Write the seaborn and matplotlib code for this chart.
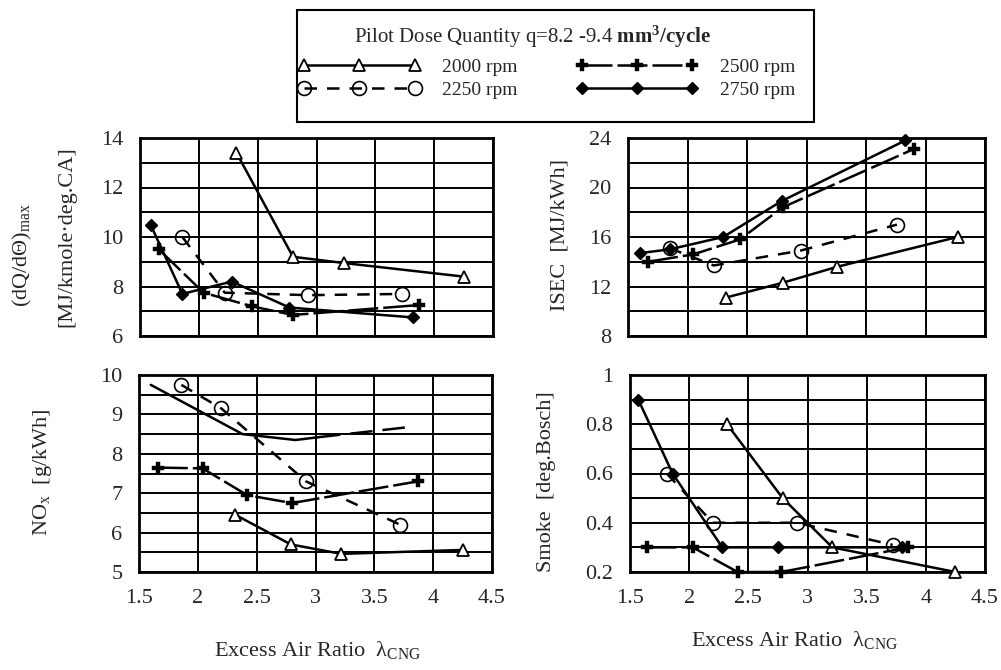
import matplotlib
matplotlib.use("Agg")
import matplotlib.pyplot as plt
import seaborn as sns
import pandas as pd
from matplotlib.lines import Line2D
from matplotlib.patches import Rectangle
from matplotlib.ticker import MultipleLocator, FuncFormatter

# ---------------- data ----------------
speeds = ["2000 rpm", "2250 rpm", "2500 rpm", "2750 rpm"]

# (dQ/dTheta)max  [MJ/kmole.deg.CA]
dq_2000_x = [2.32, 2.80, 3.23, 4.25]
dq_2000_y = [13.4, 9.2, 8.95, 8.4]
dq_2250_x = [1.86, 2.22, 2.93, 3.73]
dq_2250_y = [10.0, 7.75, 7.65, 7.7]
dq_2500_x = [1.66, 2.04, 2.45, 2.80, 3.87]
dq_2500_y = [9.5, 7.75, 7.2, 6.85, 7.25]
dq_2750_x = [1.59, 1.86, 2.28, 2.77, 3.82]
dq_2750_y = [10.5, 7.7, 8.2, 7.15, 6.75]

# ISEC [MJ/kWh]
isec_2000_x = [2.32, 2.80, 3.26, 4.27]
isec_2000_y = [11.1, 12.3, 13.6, 16.0]
isec_2250_x = [1.85, 2.22, 2.95, 3.76]
isec_2250_y = [15.1, 13.7, 14.9, 17.0]
isec_2500_x = [1.67, 2.05, 2.44, 2.80, 3.90]
isec_2500_y = [14.0, 14.6, 15.8, 18.4, 23.1]
isec_2750_x = [1.60, 1.85, 2.30, 2.79, 3.83]
isec_2750_y = [14.7, 15.0, 16.0, 18.9, 23.8]

# NOx [g/kWh]
nox_2000_x = [2.32, 2.79, 3.22, 4.25]
nox_2000_y = [6.45, 5.7, 5.46, 5.56]
nox_2250_x = [1.86, 2.20, 2.92, 3.72]
nox_2250_y = [9.75, 9.15, 7.3, 6.2]
nox_2500_x = [1.66, 2.04, 2.42, 2.80, 3.87]
nox_2500_y = [7.65, 7.63, 6.95, 6.75, 7.3]
nox_2750_x = [1.60, 2.38, 2.83, 3.02, 3.80]
nox_2750_y = [9.75, 8.5, 8.35, 8.42, 8.68]

# Smoke [deg.Bosch]
smk_2000_x = [2.32, 2.79, 3.21, 4.25]
smk_2000_y = [0.8, 0.5, 0.3, 0.2]
smk_2250_x = [1.81, 2.20, 2.91, 3.72]
smk_2250_y = [0.6, 0.4, 0.4, 0.31]
smk_2500_x = [1.64, 2.03, 2.41, 2.78, 3.85]
smk_2500_y = [0.3, 0.3, 0.2, 0.2, 0.3]
smk_2750_x = [1.57, 1.86, 2.28, 2.75, 3.80]
smk_2750_y = [0.9, 0.6, 0.3, 0.3, 0.3]

legend_title = r"Pilot Dose Quantity q=8.2 -9.4 $\mathbf{mm^{3}/cycle}$"
x_title = r"Excess Air Ratio  λ$_{\mathrm{CNG}}$"

# ---------------- style ----------------
sns.set_theme(style="white")
plt.rcParams["font.family"] = ["Liberation Serif", "DejaVu Serif"]
plt.rcParams["mathtext.fontset"] = "custom"
plt.rcParams["mathtext.rm"] = "Liberation Serif"
plt.rcParams["mathtext.it"] = "Liberation Serif:italic"
plt.rcParams["mathtext.bf"] = "Liberation Serif:bold"

STY = {
    "2000 rpm": dict(marker="^", markerfacecolor="white", markeredgecolor="black",
                     markersize=9, markeredgewidth=1.3, linestyle="-"),
    "2250 rpm": dict(marker="o", markerfacecolor="none", markeredgecolor="black",
                     markersize=10, markeredgewidth=1.2, linestyle=(0, (5, 4))),
    "2500 rpm": dict(marker="P", markerfacecolor="black", markeredgecolor="black",
                     markersize=9, markeredgewidth=0.3, linestyle=(0, (12, 2))),
    "2750 rpm": dict(marker="D", markerfacecolor="black", markeredgecolor="black",
                     markersize=6, markeredgewidth=1.0, linestyle="-"),
}
LW = 1.8

fig = plt.figure(figsize=(10.01, 6.70), dpi=100)
W, H = 1001, 670


def fx(px):
    return px / W


def fy(py):
    return 1 - py / H


def add_ax(l, r, t, b):
    return fig.add_axes([fx(l), fy(b), (r - l) / W, (b - t) / H])


ax_tl = add_ax(140, 493, 138, 336)
ax_tr = add_ax(628, 985, 138, 336)
ax_bl = add_ax(139, 492, 375, 572)
ax_br = add_ax(630, 985, 375, 572)


def series(ax, x, y, name, nomarker=False, ls=None):
    kw = dict(STY[name])
    if nomarker:
        kw["marker"] = None
    if ls is not None:
        kw["linestyle"] = ls
    df = pd.DataFrame({"x": x, "y": y})
    sns.lineplot(data=df, x="x", y="y", ax=ax, color="black", linewidth=LW,
                 sort=False, clip_on=False, zorder=3, **kw)


def fmt(v, pos):
    return "%g" % v


def style_ax(ax, ylim, ymajor, yminor, xlabels):
    ax.set_xlim(1.5, 4.5)
    ax.set_ylim(*ylim)
    ax.xaxis.set_major_locator(MultipleLocator(0.5))
    ax.yaxis.set_major_locator(MultipleLocator(ymajor))
    ax.yaxis.set_minor_locator(MultipleLocator(yminor))
    ax.yaxis.set_major_formatter(FuncFormatter(fmt))
    ax.xaxis.set_major_formatter(FuncFormatter(fmt))
    ax.grid(True, which="both", color="black", linewidth=1.4)
    ax.tick_params(which="both", length=0, pad=12, labelsize=16)
    if not xlabels:
        ax.tick_params(axis="x", labelbottom=False)
    for s in ax.spines.values():
        s.set_color("black")
        s.set_linewidth(2.0)
    ax.set_xlabel("")
    ax.set_ylabel("")
    ax.set_axisbelow(True)
    lg = ax.get_legend()
    if lg is not None:
        lg.remove()


# top-left
series(ax_tl, dq_2000_x, dq_2000_y, "2000 rpm")
series(ax_tl, dq_2250_x, dq_2250_y, "2250 rpm")
series(ax_tl, dq_2500_x, dq_2500_y, "2500 rpm")
series(ax_tl, dq_2750_x, dq_2750_y, "2750 rpm")
style_ax(ax_tl, (6, 14), 2, 1, False)

# top-right
series(ax_tr, isec_2000_x, isec_2000_y, "2000 rpm")
series(ax_tr, isec_2250_x, isec_2250_y, "2250 rpm")
series(ax_tr, isec_2500_x, isec_2500_y, "2500 rpm")
series(ax_tr, isec_2750_x, isec_2750_y, "2750 rpm")
style_ax(ax_tr, (8, 24), 4, 2, False)

# bottom-left
series(ax_bl, nox_2000_x, nox_2000_y, "2000 rpm")
series(ax_bl, nox_2250_x, nox_2250_y, "2250 rpm")
series(ax_bl, nox_2500_x, nox_2500_y, "2500 rpm")
series(ax_bl, nox_2750_x[:4], nox_2750_y[:4], "2750 rpm", nomarker=True)
series(ax_bl, nox_2750_x[3:], nox_2750_y[3:], "2750 rpm", nomarker=True, ls=(0, (9, 4)))
style_ax(ax_bl, (5, 10), 1, 0.5, True)

# bottom-right
series(ax_br, smk_2000_x, smk_2000_y, "2000 rpm")
series(ax_br, smk_2250_x, smk_2250_y, "2250 rpm")
series(ax_br, smk_2500_x, smk_2500_y, "2500 rpm")
series(ax_br, smk_2750_x, smk_2750_y, "2750 rpm")
style_ax(ax_br, (0.2, 1.0), 0.2, 0.1, True)

# axis titles
fs = 16
fig.text(fx(22), fy(255), r"(dQ/dΘ)$_{\mathrm{max}}$", rotation=90,
         ha="center", va="center", fontsize=fs)
fig.text(fx(67), fy(237), "[MJ/kmole·deg.CA]", rotation=90,
         ha="center", va="center", fontsize=fs)
fig.text(fx(560), fy(235), "ISEC  [MJ/kWh]", rotation=90,
         ha="center", va="center", fontsize=fs)
fig.text(fx(42), fy(472), r"NO$_{\mathrm{x}}$  [g/kWh]", rotation=90,
         ha="center", va="center", fontsize=fs)
fig.text(fx(547), fy(482), "Smoke  [deg.Bosch]", rotation=90,
         ha="center", va="center", fontsize=fs)
fig.text(fx(318), fy(650), x_title, ha="center", va="center", fontsize=fs)
fig.text(fx(795), fy(640), x_title, ha="center", va="center", fontsize=fs)

# legend box, title and entries
fig.patches.append(Rectangle((fx(297), fy(122)), (814 - 297) / W, (122 - 10) / H,
                             transform=fig.transFigure, facecolor="white",
                             edgecolor="black", linewidth=1.5, zorder=0))
fig.text(fx(532), fy(37), legend_title, ha="center", va="center", fontsize=15)

handles = []
for name in speeds:
    handles.append(Line2D([0], [0], color="black", linewidth=LW, **STY[name]))
leg = fig.legend(handles, speeds, ncol=2, loc="upper left",
                 bbox_to_anchor=(fx(298), fy(58)), borderaxespad=0,
                 numpoints=3, handlelength=6.3, fontsize=14, frameon=False,
                 borderpad=0, labelspacing=0.3, columnspacing=3.0,
                 handletextpad=1.1)

fig.savefig("out.png", dpi=100, facecolor="white")
